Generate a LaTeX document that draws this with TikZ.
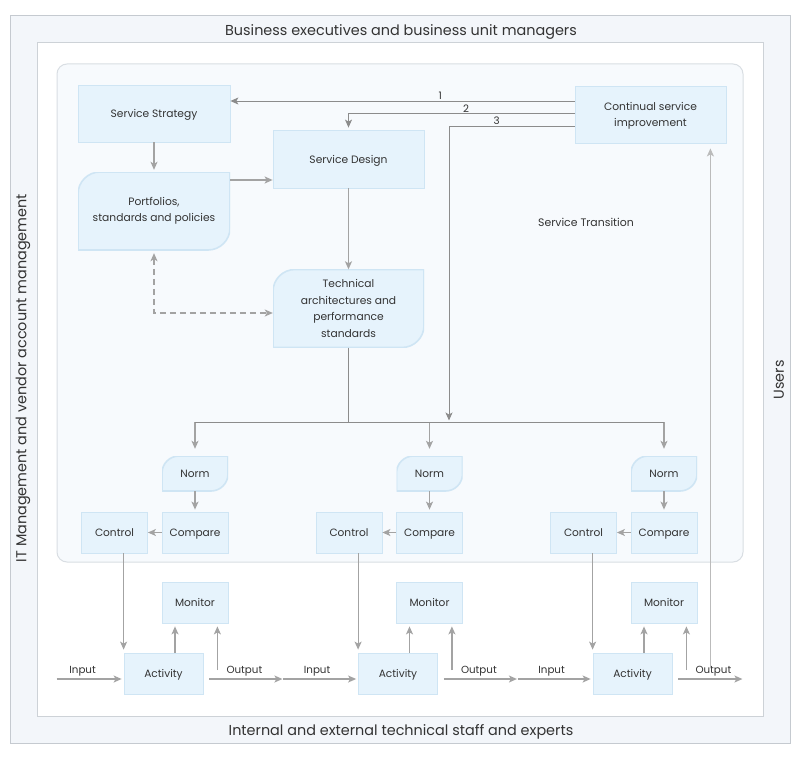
\documentclass[tikz,border=0pt]{standalone}
\usepackage{fontspec}
\setmainfont{Poppins}
\usetikzlibrary{arrows.meta,calc}
\definecolor{framefill}{HTML}{F3F6FA}
\definecolor{frameline}{HTML}{C5CAD0}
\definecolor{innerline}{HTML}{CDD2D7}
\definecolor{areafill}{HTML}{F7FAFD}
\definecolor{arealine}{HTML}{D9DEE3}
\definecolor{nodefill}{HTML}{E6F3FC}
\definecolor{nodeline}{HTML}{CFE5F4}
\definecolor{arrowgray}{HTML}{A3A3A3}
\definecolor{linegray}{HTML}{8C8C8C}
\definecolor{fbgray}{HTML}{BBBBBB}
\definecolor{txt}{HTML}{333333}
\tikzset{
  x=1pt, y=-1pt,
  sz/.style 2 args={minimum width=#1pt, minimum height=#2pt},
  box/.style={rectangle, fill=nodefill, draw=nodeline, line width=0.8pt, text=txt,
    font=\fontsize{10.7}{16.4}\selectfont, align=center, inner sep=2pt, text depth=0pt},
  leafbox/.style={rectangle, text=txt, font=\fontsize{10.7}{16.4}\selectfont, align=center, inner sep=2pt,
    path picture={\path[fill=nodefill,draw=nodeline,line width=1.6pt]
      let \p1=(path picture bounding box.north west), \p2=(path picture bounding box.south east) in
      (\x1+#1,\y1) -- (\x2,\y1) -- (\x2,\y2+#1) arc[start angle=0,end angle=-90,radius=#1]
      -- (\x1,\y2) -- (\x1,\y1-#1) arc[start angle=180,end angle=90,radius=#1] -- cycle;}},
  small/.style={font=\fontsize{10.6}{13}\selectfont},
  lbl/.style={text=txt, font=\fontsize{10.3}{12}\selectfont, inner sep=0pt},
  title/.style={text=txt, font=\fontsize{14.4}{17}\selectfont, inner sep=0pt},
  arr/.style={draw=arrowgray, line width=1.2pt, -{Stealth[length=8pt,width=7pt,inset=2pt]}},
  darr/.style={arr, dashed, dash pattern=on 6pt off 4pt},
  numarr/.style={draw=linegray, line width=1pt, -{Stealth[length=8pt,width=7pt,inset=2pt]}},
  busline/.style={draw=linegray, line width=1pt},
  fbarr/.style={draw=fbgray, line width=1.5pt, -{Stealth[length=8pt,width=7pt,inset=2pt]}},
}
\begin{document}
\begin{tikzpicture}
\useasboundingbox (0,0) rectangle (800,760);
% frames
\path[fill=framefill, draw=frameline, line width=1pt] (10,16) rectangle (790,743);
\path[fill=white, draw=innerline, line width=1pt] (37,43) rectangle (763,716);
\path[fill=areafill, draw=arealine, line width=1pt, rounded corners=10pt] (57,64) rectangle (743,562);
% frame titles
\node[title] (ttop) at (401,32) {Business executives and business unit managers};
\node[title] (tbot) at (401,732) {Internal and external technical staff and experts};
\node[title, rotate=90] (tleft) at (23,378) {IT Management and vendor account management};
\node[title, rotate=90] (tright) at (779,380) {Users};
% upper nodes
\node[box, sz={152}{57}] (strat) at (154,113.5) {Service Strategy};
\node[box, sz={151}{58}] (design) at (348.5,159) {Service Design};
\node[leafbox=22pt, sz={152}{78}] (port) at (154,211) {Portfolios,\\standards and policies};
\node[leafbox=22pt, sz={151}{78}] (tech) at (348.5,308.5) {Technical\\architectures and\\performance\\standards};
\node[box, sz={151}{57}] (csi) at (650.5,114.5) {Continual service\\improvement};
\node[lbl, font=\fontsize{10.9}{12}\selectfont] (st) at (586,222) {Service Transition};
% upper connectors
\draw[arr, shorten >=2pt] (strat) -- (port);
\draw[arr] (port.east |- 0,180) -- (design.west |- 0,180);
\draw[arr] (design) -- (tech);
\draw[darr, {Stealth[length=8pt,width=7pt,inset=2pt]}-{Stealth[length=8pt,width=7pt,inset=2pt]}, shorten <=3pt]
  (port.south) |- (tech.west |- 0,313);
\draw[numarr] (csi.west |- 0,101) -- node[lbl, pos=0.39, above=1pt] (n1) {1} (strat.east |- 0,101);
\draw[numarr, shorten >=2pt] (csi.west |- 0,113.5) -| node[lbl, pos=0.24, above=1pt] (n2) {2} (design.north);
\coordinate (bus) at (348,422);
\coordinate (c3) at (csi.west |- 0,126);
\draw[numarr, shorten >=1.5pt] (c3) -| node[lbl, pos=0.31, above=1pt] (n3) {3} (449,422);
% groups
\foreach \i/\dx/\ie/\oe in {1/0/67/79, 2/234.5/75/79, 3/469/75/70}{
  \node[leafbox=17pt, small, sz={66}{35}] (norm\i) at (195+\dx,473.5) {Norm};
  \node[box, small, sz={66}{41}] (comp\i) at (195+\dx,532.5) {Compare};
  \node[box, small, sz={66}{41}] (ctrl\i) at (114.5+\dx,532.5) {Control};
  \node[box, small, sz={66}{41}] (mon\i) at (195+\dx,602.5) {Monitor};
  \node[box, small, sz={79}{41}] (act\i) at (163.5+\dx,673.5) {Activity};
  \draw[arr, shorten >=2pt] (norm\i) -- (comp\i);
  \draw[arr] (comp\i.west) -- (ctrl\i.east);
  \draw[arr, shorten >=3pt] (act\i.north west |- ctrl\i.south) -- (act\i.north west);
  \coordinate (u\i) at ($(act\i.north)+(11.5,0)$);
  \draw[arr, shorten >=3pt] (u\i) -- (u\i |- mon\i.south);
  \coordinate (os\i) at ($(act\i.east)+(6,5.5)$);
  \coordinate (oe\i) at ($(act\i.east)+(\oe,5.5)$);
  \draw[arr] (os\i) -- (oe\i);
  \coordinate (v\i) at ($(os\i)+(8,-9)$);
  \draw[arr, shorten >=3pt] (v\i) -- (v\i |- mon\i.south);
  \coordinate (is\i) at ($(act\i.west)+(-\ie,5.5)$);
  \coordinate (ie\i) at ($(act\i.west)+(-2,5.5)$);
  \draw[arr] (is\i) -- (ie\i);
  \node[lbl] (inl\i) at ($(act\i.west)+(-41,-2.5)$) {Input};
  \node[lbl] (outl\i) at ($(act\i.east)+(41,-2.5)$) {Output};
  \draw[arr, shorten >=7pt] (norm\i.north |- bus) -- (norm\i.north);
}
% bus
\draw[busline] (tech.south) -- (tech.south |- bus);
\draw[busline] (norm1.north |- bus) -- (norm3.north |- bus);
% feedback from last output to CSI
\coordinate (fb) at ($(os3)+(32,-11)$);
\draw[fbarr, shorten >=5pt] (fb) -- (fb |- csi.south);
\end{tikzpicture}
\end{document}
